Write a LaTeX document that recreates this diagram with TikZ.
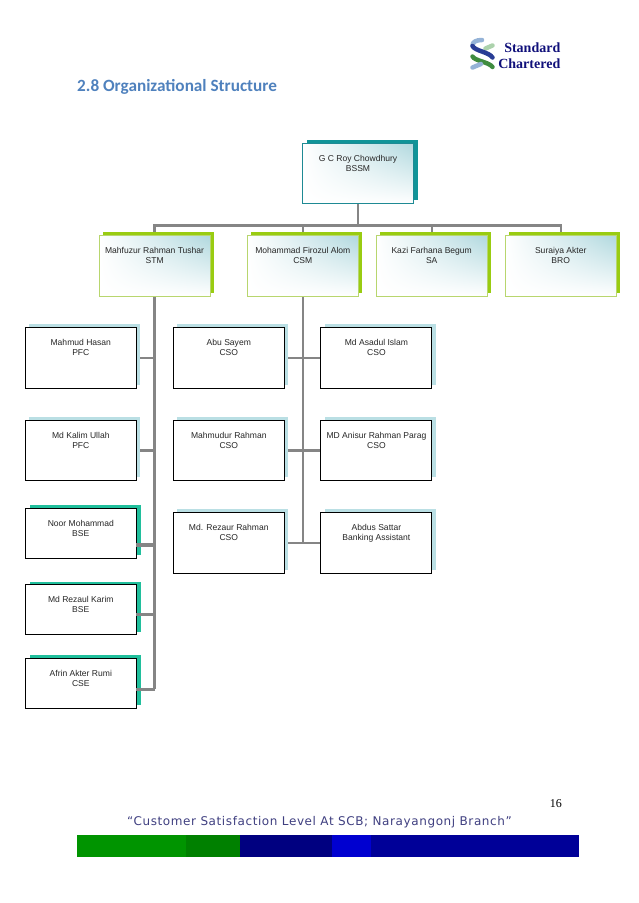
\documentclass[tikz,border=0pt]{standalone}
\usepackage{fontspec}
\setmainfont{Liberation Sans}
\newfontfamily\serifbold{Liberation Serif}
\newfontfamily\titlefont{Carlito}
\newfontfamily\footfont[LetterSpace=5]{DejaVu Sans}
\usetikzlibrary{shadows,backgrounds,shadings}

\definecolor{teal1}{HTML}{109498}
\definecolor{tealline}{HTML}{1E8A94}
\definecolor{lime1}{HTML}{99CC11}
\definecolor{limeline}{HTML}{B8D66E}
\definecolor{pale1}{HTML}{BADFE4}
\definecolor{sea1}{HTML}{20BF9C}
\definecolor{glow}{HTML}{B0D8DE}
\definecolor{wire}{HTML}{858585}
\definecolor{titleblue}{HTML}{4F81BD}
\definecolor{footink}{HTML}{3F3F80}
\definecolor{logonavy}{HTML}{10107A}

\tikzset{
  orgbox/.style={draw,inner sep=0pt,outer sep=0pt,line width=1pt,minimum width=111pt,
    align=center,text=black!85,font=\fontsize{8.55}{10}\selectfont,text height=28pt,text depth=32.5pt},
  glowbox/.style={orgbox,lower left=white,upper left=white,lower right=white,upper right=glow},
  topbox/.style={glowbox,draw=tealline,
    general shadow={fill=teal1,shadow xshift=4pt,shadow yshift=3.5pt}},
  headbox/.style={glowbox,draw=limeline,line width=1.2pt,
    general shadow={fill=lime1,shadow xshift=4pt,shadow yshift=3.5pt}},
  staffbox/.style={orgbox,fill=white,draw=black,
    general shadow={fill=pale1,shadow xshift=4pt,shadow yshift=3.5pt}},
  seabox/.style={orgbox,fill=white,draw=black,text depth=22pt,
    general shadow={fill=sea1,shadow xshift=4.5pt,shadow yshift=3pt}},
  wireline/.style={draw=wire,line width=2.4pt},
  logostroke/.style={line width=4.5pt,line cap=round}
}

\begin{document}
\begin{tikzpicture}[x=1pt,y=-1pt]
\useasboundingbox (0,0) rectangle (638,903);

% heading
\node[anchor=west,inner sep=0pt,text=titleblue,font=\titlefont\bfseries\fontsize{17.2}{18}\selectfont] (title) at (77,87) {2.8 Organizational Structure};

% logo
\draw[logostroke,color=titleblue!60] (482,40) .. controls (476,40) and (472.5,42) .. (472.5,45.5);
\draw[logostroke,color=green!30!gray!50] (492.5,45.5) -- (485.5,48.5);
\draw[logostroke,color=titleblue!40!logonavy] (472.5,46) .. controls (475,51) and (489,52) .. (492.5,57.5);
\draw[logostroke,color=green!40!black!75] (472.5,56.5) .. controls (475,61) and (489,62) .. (492.5,67);
\draw[logostroke,color=titleblue!60] (472.5,67.5) -- (481,64);
\node[anchor=east,inner sep=0pt,text=logonavy,font=\serifbold\bfseries\fontsize{14}{16}\selectfont] (std) at (560.5,47.5) {Standard};
\node[anchor=east,inner sep=0pt,text=logonavy,font=\serifbold\bfseries\fontsize{14}{16}\selectfont] (chart) at (560.5,63.5) {Chartered};

% org chart
\node[topbox] (bssm) at (358,173.5) {G C Roy Chowdhury\\BSSM};
\node[headbox] (stm) at (154.6,266) {Mahfuzur Rahman Tushar\\STM};
\node[headbox] (csm) at (302.8,266) {Mohammad Firozul Alom\\CSM};
\node[headbox] (sa) at (431.7,266) {Kazi Farhana Begum\\SA};
\node[headbox] (bro) at (560.7,266) {Suraiya Akter\\BRO};

\node[staffbox] (hasan) at (80.8,358.2) {Mahmud Hasan\\PFC};
\node[staffbox] (kalim) at (80.8,450.3) {Md Kalim Ullah\\PFC};
\node[seabox] (noor) at (80.8,533) {Noor Mohammad\\BSE};
\node[seabox] (karim) at (80.8,609.7) {Md Rezaul Karim\\BSE};
\node[seabox] (afrin) at (80.8,683) {Afrin Akter Rumi\\CSE};

\node[staffbox] (abu) at (228.8,358.2) {Abu Sayem\\CSO};
\node[staffbox] (rahman) at (228.8,450.3) {Mahmudur Rahman\\CSO};
\node[staffbox] (rezaur) at (228.8,543) {Md. Rezaur Rahman\\CSO};
\node[staffbox] (asadul) at (376.4,358.2) {Md Asadul Islam\\CSO};
\node[staffbox] (anisur) at (376.4,450.3) {MD Anisur Rahman Parag\\CSO};
\node[staffbox] (abdus) at (376.4,543) {Abdus Sattar\\Banking Assistant};

\coordinate (bus) at (358,225.3);
\coordinate (noorjoin) at (136.3,545);
\coordinate (karimjoin) at (136.3,614.3);
\coordinate (afrinjoin) at (136.3,689.3);

\begin{scope}[on background layer]
\draw[wireline] (bssm.south) -- (bus);
\draw[wireline] (stm.north) |- (bus);
\draw[wireline] (csm.north) |- (bus);
\draw[wireline] (sa.north) |- (bus);
\draw[wireline] (bro.north) |- (bus);
\draw[wireline] (stm.south) -- (stm.south |- afrinjoin);
\draw[wireline] (csm.south) -- (csm.south |- abdus.east);
\draw[wireline] (hasan.east) -- (hasan.east -| stm.south);
\draw[wireline] (kalim.east) -- (kalim.east -| stm.south);
\draw[wireline] (abu.east) -- (asadul.west);
\draw[wireline] (rahman.east) -- (anisur.west);
\draw[wireline] (rezaur.east) -- (abdus.west);
\end{scope}
\draw[wireline,line width=3.2pt] (noorjoin) -- (noorjoin -| stm.south);
\draw[wireline] (karimjoin) -- (karimjoin -| stm.south);
\draw[wireline] (afrinjoin) -- (afrinjoin -| stm.south);

% page foot
\node[anchor=east,inner sep=0pt,font=\serifbold\fontsize{12}{14}\selectfont] (page) at (562,804) {16};
\node[inner sep=0pt,text=footink,font=\footfont\fontsize{12}{14}\selectfont] (foot) at (319.5,822) {“Customer Satisfaction Level At SCB; Narayangonj Branch”};
\fill[fill={rgb,255:red,0;green,148;blue,0}] (77,835) rectangle (185.5,856.5);
\fill[fill={rgb,255:red,0;green,128;blue,0}] (185.5,835) rectangle (240,856.5);
\fill[fill={rgb,255:red,0;green,0;blue,128}] (240,835) rectangle (331.5,856.5);
\fill[fill={rgb,255:red,0;green,0;blue,208}] (331.5,835) rectangle (370.5,856.5);
\fill[fill={rgb,255:red,0;green,0;blue,152}] (370.5,835) rectangle (579,856.5);
\end{tikzpicture}
\end{document}
